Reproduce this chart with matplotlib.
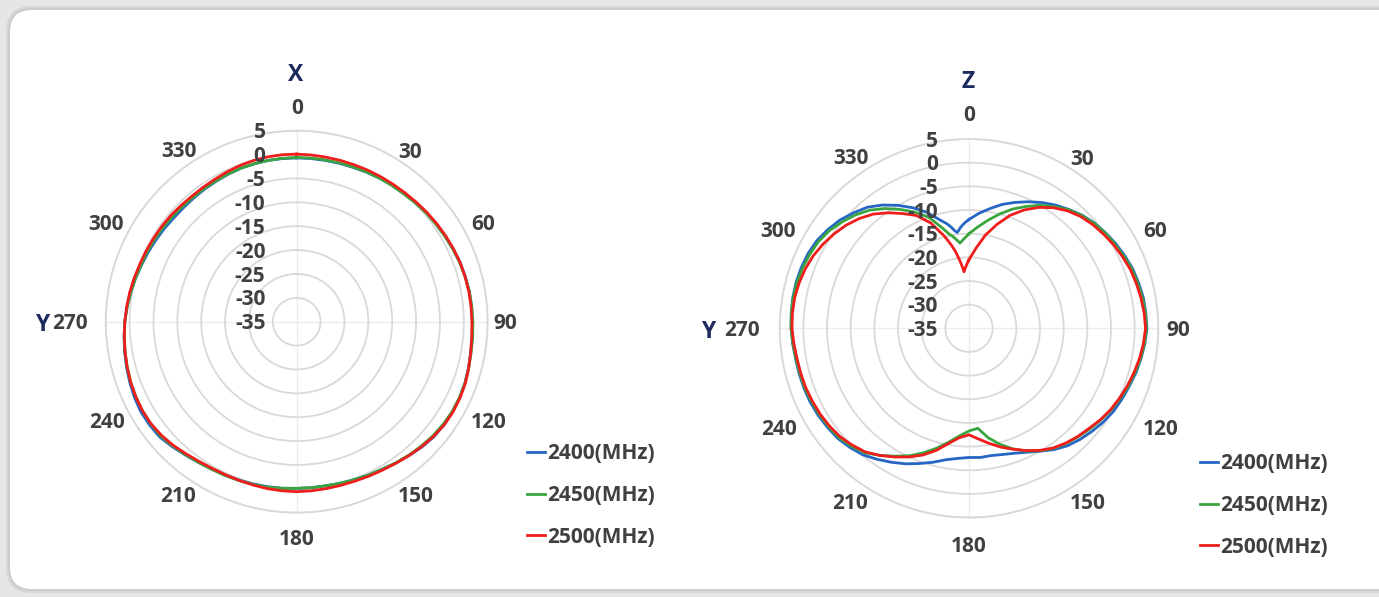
import numpy as np
import matplotlib.pyplot as plt
import matplotlib.transforms as mtransforms
from matplotlib.patches import FancyBboxPatch

plt.rcParams['font.family'] = ['Open Sans', 'DejaVu Sans']

# ---- data (dB) ----
freq_labels = ['2400(MHz)', '2450(MHz)', '2500(MHz)']
line_colors = ['#2566c4', '#3aa53f', '#f01d1d']

ring_vals = [5, 0, -5, -10, -15, -20, -25, -30, -35]
angle_ticks = [0, 30, 60, 90, 120, 150, 180, 210, 240, 270, 300, 330]

# X plane, every 5 deg
ang_x = list(range(0, 360, 5))
x_2400 = [-0.7, -0.7, -0.7, -0.65, -0.6, -0.45, -0.3, -0.15, 0.0, 0.25, 0.5, 0.7,
          0.9, 1.15, 1.4, 1.55, 1.7, 1.75, 1.8, 1.9, 2.0, 2.25, 2.5, 2.65,
          2.7, 2.65, 2.5, 2.1, 1.6, 1.15, 0.7, 0.45, 0.2, 0.05, -0.1, -0.1,
          -0.1, 0.0, 0.1, 0.2, 0.3, 0.45, 0.6, 0.95, 1.4, 1.95, 2.5, 2.65,
          2.7, 2.5, 2.2, 1.9, 1.6, 1.3, 1.0, 0.65, 0.3, -0.05, -0.4, -0.65,
          -0.9, -1.1, -1.3, -1.35, -1.3, -1.2, -1.1, -0.95, -0.8, -0.75, -0.7, -0.7]
x_2450 = [-0.6, -0.6, -0.6, -0.55, -0.5, -0.4, -0.3, -0.2, -0.1, 0.15, 0.4, 0.6,
          0.8, 1.05, 1.3, 1.5, 1.7, 1.8, 1.9, 2.0, 2.1, 2.3, 2.5, 2.6,
          2.6, 2.45, 2.2, 1.85, 1.5, 1.1, 0.7, 0.45, 0.2, 0.05, -0.1, -0.1,
          -0.1, 0.05, 0.2, 0.3, 0.4, 0.55, 0.7, 0.95, 1.3, 1.75, 2.2, 2.3,
          2.3, 2.15, 2.0, 1.75, 1.5, 1.25, 1.0, 0.65, 0.3, 0.0, -0.3, -0.45,
          -0.6, -0.75, -0.9, -1.0, -1.1, -1.05, -1.0, -0.9, -0.8, -0.75, -0.7, -0.65]
x_2500 = [0.1, 0.05, 0.0, 0.0, 0.0, 0.05, 0.1, 0.15, 0.25, 0.4, 0.6, 0.8,
          1.0, 1.2, 1.4, 1.5, 1.6, 1.65, 1.7, 1.8, 2.0, 2.3, 2.6, 2.75,
          2.8, 2.7, 2.4, 2.0, 1.6, 1.2, 0.9, 0.7, 0.55, 0.5, 0.5, 0.55,
          0.6, 0.55, 0.5, 0.4, 0.35, 0.35, 0.45, 0.7, 1.1, 1.6, 2.0, 2.25,
          2.3, 2.2, 2.0, 1.75, 1.5, 1.25, 1.0, 0.75, 0.5, 0.25, 0.0, -0.15,
          -0.3, -0.4, -0.5, -0.65, -0.75, -0.7, -0.6, -0.4, -0.2, -0.05, 0.05, 0.1]

# Z plane, every 5 deg plus extra points round the null near 355 deg
ang_z = list(range(0, 350, 5)) + [348, 350, 352, 353, 354, 355, 356, 358]
z_2400 = [-12.0, -10.6, -9.3, -7.9, -6.7, -5.5, -4.3, -3.2, -2.2, -1.2, -0.4, 0.2,
          0.8, 1.3, 1.8, 2.1, 2.4, 2.5, 2.6, 2.3, 1.9, 1.5, 1.0, 0.6,
          0.2, -0.4, -1.1, -1.8, -2.6, -3.7, -5.0, -6.1, -6.9, -7.4, -7.7, -7.6,
          -7.7, -7.4, -6.8, -5.7, -4.6, -3.4, -2.3, -1.2, -0.1, 0.6, 1.2, 1.5,
          1.8, 2.0, 2.1, 2.15, 2.2, 2.4, 2.6, 2.7, 2.8, 2.8, 2.7, 2.5,
          2.1, 1.4, 0.6, -0.5, -1.6, -3.2, -5.0, -6.9, -8.9, -11.3,
          -12.4, -13.3, -14.3, -14.6, -14.2, -13.7, -13.3, -12.6]
z_2450 = [-15.0, -13.5, -11.8, -10.0, -8.2, -6.6, -5.0, -3.6, -2.3, -1.3, -0.5, 0.1,
          0.6, 1.1, 1.6, 1.9, 2.2, 2.4, 2.5, 2.2, 1.8, 1.3, 0.8, 0.2,
          -0.4, -1.1, -1.8, -2.5, -3.2, -4.0, -5.1, -6.4, -7.9, -9.6, -11.5, -13.8,
          -13.3, -12.2, -10.6, -8.8, -7.0, -5.3, -3.8, -2.2, -0.7, 0.2, 0.9, 1.2,
          1.5, 1.7, 1.9, 2.0, 2.1, 2.35, 2.6, 2.7, 2.7, 2.6, 2.4, 2.1,
          1.7, 1.0, 0.0, -1.1, -2.4, -4.1, -6.0, -7.9, -10.0, -13.0,
          -14.6, -15.3, -16.1, -16.5, -16.9, -16.6, -16.3, -15.7]
z_2500 = [-20.5, -18.0, -15.0, -12.3, -9.6, -7.4, -5.5, -3.9, -2.6, -1.6, -0.9, -0.3,
          0.3, 0.8, 1.3, 1.6, 1.9, 2.15, 2.3, 2.0, 1.6, 1.1, 0.6, 0.05,
          -0.5, -1.2, -2.0, -2.6, -3.3, -4.1, -5.2, -6.5, -7.8, -9.0, -10.3, -11.5,
          -12.5, -11.8, -10.3, -8.3, -6.5, -5.0, -3.6, -2.2, -0.9, -0.1, 0.6, 1.0,
          1.3, 1.5, 1.7, 1.8, 1.9, 2.15, 2.4, 2.45, 2.4, 2.15, 1.8, 1.3,
          0.6, -0.2, -1.1, -2.2, -3.5, -5.2, -7.0, -8.7, -11.3, -14.8,
          -17.0, -18.5, -20.3, -21.2, -22.1, -23.0, -22.5, -21.5]

W, H = 1379, 597
txt_gray = '#404040'
navy = '#1c2a5e'
grid_c = '#d9d9d9'
fs = 15

# where the angle labels sit, pixel offset of their centre from the plot centre
label_off = {0: (0, 213), 30: (113, 169), 60: (186, 97), 90: (209, -2), 120: (192, -101),
             150: (119, -175), 180: (0, -218), 210: (-119, -175), 240: (-190, -101),
             270: (-227, -2), 300: (-191, 97), 330: (-118, 170)}

fig = plt.figure(figsize=(W / 100, H / 100), dpi=100)
fig.patch.set_facecolor('#e6e6e6')
ident = mtransforms.IdentityTransform()
# soft border round the white panel
for grow, col in [(4, '#d6d6d6'), (2, '#cccccc')]:
    fig.patches.append(FancyBboxPatch((10 - grow, 8 - grow), 1420 + 2 * grow, 579 + 2 * grow,
                                      boxstyle='round,pad=0,rounding_size=%d' % (22 + grow),
                                      transform=ident, fc=col, ec='none', zorder=-3))
fig.patches.append(FancyBboxPatch((10, 8), 1420, 579, boxstyle='round,pad=0,rounding_size=22',
                                  transform=ident, fc='white', ec='none', zorder=-2))


def draw_panel(rect, angles, series, title, title_xy, y_xy, leg_xy):
    ax = fig.add_axes(rect, projection='polar')
    ax.set_facecolor('none')
    ax.set_theta_zero_location('N')
    ax.set_theta_direction(-1)
    ax.set_ylim(-35, 5)
    ax.set_yticks(ring_vals[:-1])
    ax.set_yticklabels([])
    ax.set_xticks(np.deg2rad([0, 90, 180, 270]))
    ax.set_xticklabels([])
    ax.yaxis.grid(True, color=grid_c, lw=1.3)
    ax.xaxis.grid(True, color='#ececec', lw=1.0)
    ax.spines['polar'].set_color(grid_c)
    ax.spines['polar'].set_linewidth(1.3)

    th = np.deg2rad(angles + [angles[0]])
    for vals, col, lab in zip(series, line_colors, freq_labels):
        ax.plot(th, vals + [vals[0]], color=col, lw=2.0, label=lab, solid_joinstyle='round')

    for v in ring_vals:
        ax.annotate(str(v), xy=(0, v), xytext=(-22.5, -1.5), textcoords='offset points',
                    ha='right', va='center', fontsize=fs, fontweight='bold', color=txt_gray)
    for a in angle_ticks:
        dx, dy = label_off[a]
        ax.annotate(str(a), xy=(0, -35), xytext=(dx, dy), textcoords='offset pixels',
                    ha='center', va='center', fontsize=fs, fontweight='bold',
                    color=txt_gray, annotation_clip=False)

    fig.text(title_xy[0] / W, 1 - title_xy[1] / H, title, ha='center', va='center',
             fontsize=16.5, fontweight='bold', color=navy)
    fig.text(y_xy[0] / W, 1 - y_xy[1] / H, 'Y', ha='center', va='center',
             fontsize=16.5, fontweight='bold', color=navy)
    leg = ax.legend(loc='upper left', bbox_to_anchor=(leg_xy[0] / W, 1 - leg_xy[1] / H),
                    bbox_transform=fig.transFigure, frameon=False, borderpad=0, borderaxespad=0,
                    handlelength=0.85, handletextpad=0.1, labelspacing=1.0,
                    prop={'size': fs, 'weight': 'bold'})
    for t in leg.get_texts():
        t.set_color(txt_gray)
    return ax


# left: centre (296.7, 321.7) r=191 ; right: centre (969, 328.3) r=189.3
draw_panel([105.7 / W, (H - 321.7 - 191) / H, 382 / W, 382 / H], ang_x,
           [x_2400, x_2450, x_2500], 'X', (296, 75), (42, 325), (527, 443))
draw_panel([779.7 / W, (H - 328.3 - 189.3) / H, 378.6 / W, 378.6 / H], ang_z,
           [z_2400, z_2450, z_2500], 'Z', (968, 82), (708, 332), (1200, 453))

fig.savefig('out.png', dpi=100, facecolor=fig.get_facecolor())
